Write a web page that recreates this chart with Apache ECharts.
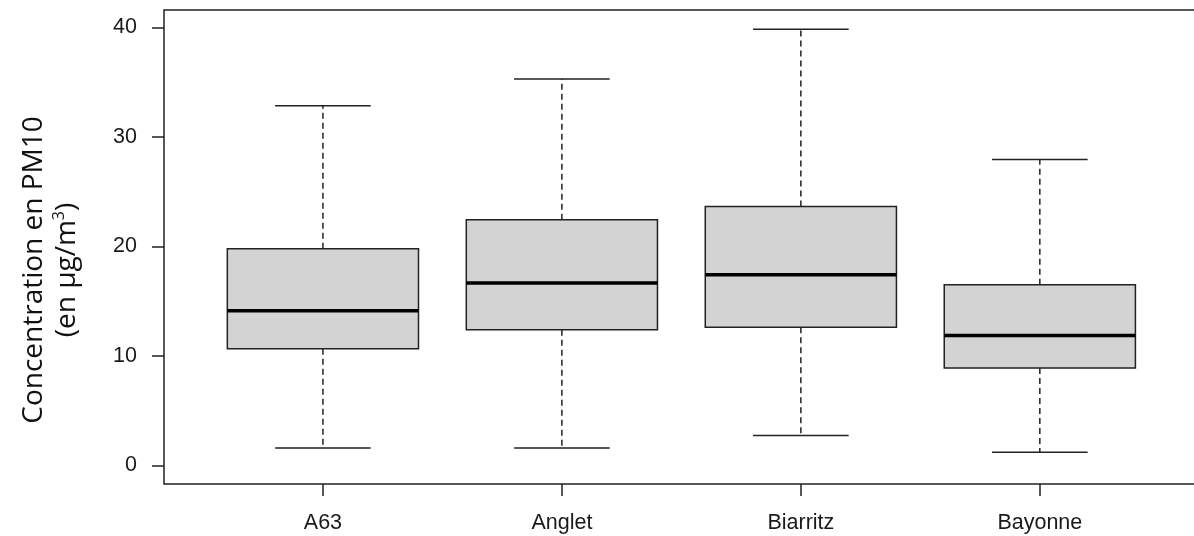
<!DOCTYPE html>
<html>
<head>
<meta charset="utf-8">
<script src="https://cdn.jsdelivr.net/npm/echarts@6/dist/echarts.min.js"></script>
<style>
  html, body { margin: 0; padding: 0; background: #fff; }
  #chart { width: 1194px; height: 536px; }
</style>
</head>
<body>
<div id="chart"></div>
<script>
  // station names and box stats (µg/m3)
  const categories = ['A63', 'Anglet', 'Biarritz', 'Bayonne'];
  const lowWhisker = [1.58, 1.58, 2.74, 1.19];
  const q1 = [10.66, 12.39, 12.63, 8.89];
  const median = [14.13, 16.65, 17.42, 11.87];
  const q3 = [19.79, 22.44, 23.65, 16.5];
  const highWhisker = [32.85, 35.3, 39.85, 27.95];
  const yTicks = [0, 10, 20, 30, 40];
  const xTicks = categories.map((c, i) => i + 1);

  const boxData = categories.map((c, i) =>
    [i + 1, lowWhisker[i], q1[i], median[i], q3[i], highWhisker[i]]);

  const chart = echarts.init(document.getElementById('chart'));
  const labelFont = "'Liberation Sans', Arial, sans-serif";

  function renderBox(params, api) {
    const x = api.value(0);
    const pLow = api.coord([x, api.value(1)]);
    const pQ1 = api.coord([x, api.value(2)]);
    const pMed = api.coord([x, api.value(3)]);
    const pQ3 = api.coord([x, api.value(4)]);
    const pHigh = api.coord([x, api.value(5)]);
    const w = api.size([0.8, 0])[0];
    const cx = pMed[0];
    const stroke = { stroke: '#222', lineWidth: 1.5 };
    const dash = { stroke: '#222', lineWidth: 1.5, lineDash: [6, 4] };

    return {
      type: 'group',
      children: [
        { type: 'line', shape: { x1: cx, y1: pQ3[1], x2: cx, y2: pHigh[1] }, style: dash },
        { type: 'line', shape: { x1: cx, y1: pQ1[1], x2: cx, y2: pLow[1] }, style: dash },
        { type: 'line', shape: { x1: cx - w / 4, y1: pHigh[1], x2: cx + w / 4, y2: pHigh[1] }, style: stroke },
        { type: 'line', shape: { x1: cx - w / 4, y1: pLow[1], x2: cx + w / 4, y2: pLow[1] }, style: stroke },
        {
          type: 'rect',
          shape: { x: cx - w / 2, y: pQ3[1], width: w, height: pQ1[1] - pQ3[1] },
          style: { fill: '#d3d3d3', stroke: '#222', lineWidth: 1.5 }
        },
        { type: 'line', shape: { x1: cx - w / 2, y1: pMed[1], x2: cx + w / 2, y2: pMed[1] }, style: { stroke: '#000', lineWidth: 3.5 } }
      ]
    };
  }

  chart.setOption({
    animation: false,
    // plot box runs past the right edge of the picture, as in the source
    grid: {
      left: 164, width: 1040, top: 10, bottom: 52,
      outerBoundsMode: 'none', containLabel: false,
      show: true, borderColor: '#222', borderWidth: 1.5, backgroundColor: 'transparent'
    },
    xAxis: {
      type: 'value',
      min: 0.335,
      max: 4.687,
      axisLine: { show: false, onZero: false },
      splitLine: { show: false },
      axisTick: { show: true, customValues: xTicks, length: 12, lineStyle: { color: '#222', width: 1.5 } },
      axisLabel: {
        customValues: xTicks,
        formatter: v => categories[Math.round(v) - 1] || '',
        margin: 28,
        fontSize: 21.5,
        fontFamily: labelFont,
        color: '#1a1a1a'
      }
    },
    yAxis: {
      type: 'value',
      min: -1.7,
      max: 41.6,
      axisLine: { show: false, onZero: false },
      splitLine: { show: false },
      axisTick: { show: true, customValues: yTicks, length: 12, lineStyle: { color: '#222', width: 1.5 } },
      axisLabel: {
        customValues: yTicks,
        margin: 27,
        fontSize: 21.5,
        fontFamily: labelFont,
        color: '#1a1a1a'
      }
    },
    graphic: [{
      type: 'text',
      x: 51,
      y: 270,
      rotation: Math.PI / 2,
      style: {
        text: 'Concentration en PM10\n(en µg/m{sup|3})',
        align: 'center',
        verticalAlign: 'middle',
        fontSize: 28,
        fontFamily: "'Open Sans', sans-serif",
        lineHeight: 33,
        fill: '#111',
        rich: {
          sup: { fontSize: 16, fontFamily: "'Open Sans', sans-serif", verticalAlign: 'top', lineHeight: 33, fill: '#111' }
        }
      }
    }],
    series: [{
      type: 'custom',
      renderItem: renderBox,
      encode: { x: 0, y: [1, 2, 3, 4, 5] },
      data: boxData
    }]
  });

  window.addEventListener('resize', () => chart.resize());
</script>
</body>
</html>
